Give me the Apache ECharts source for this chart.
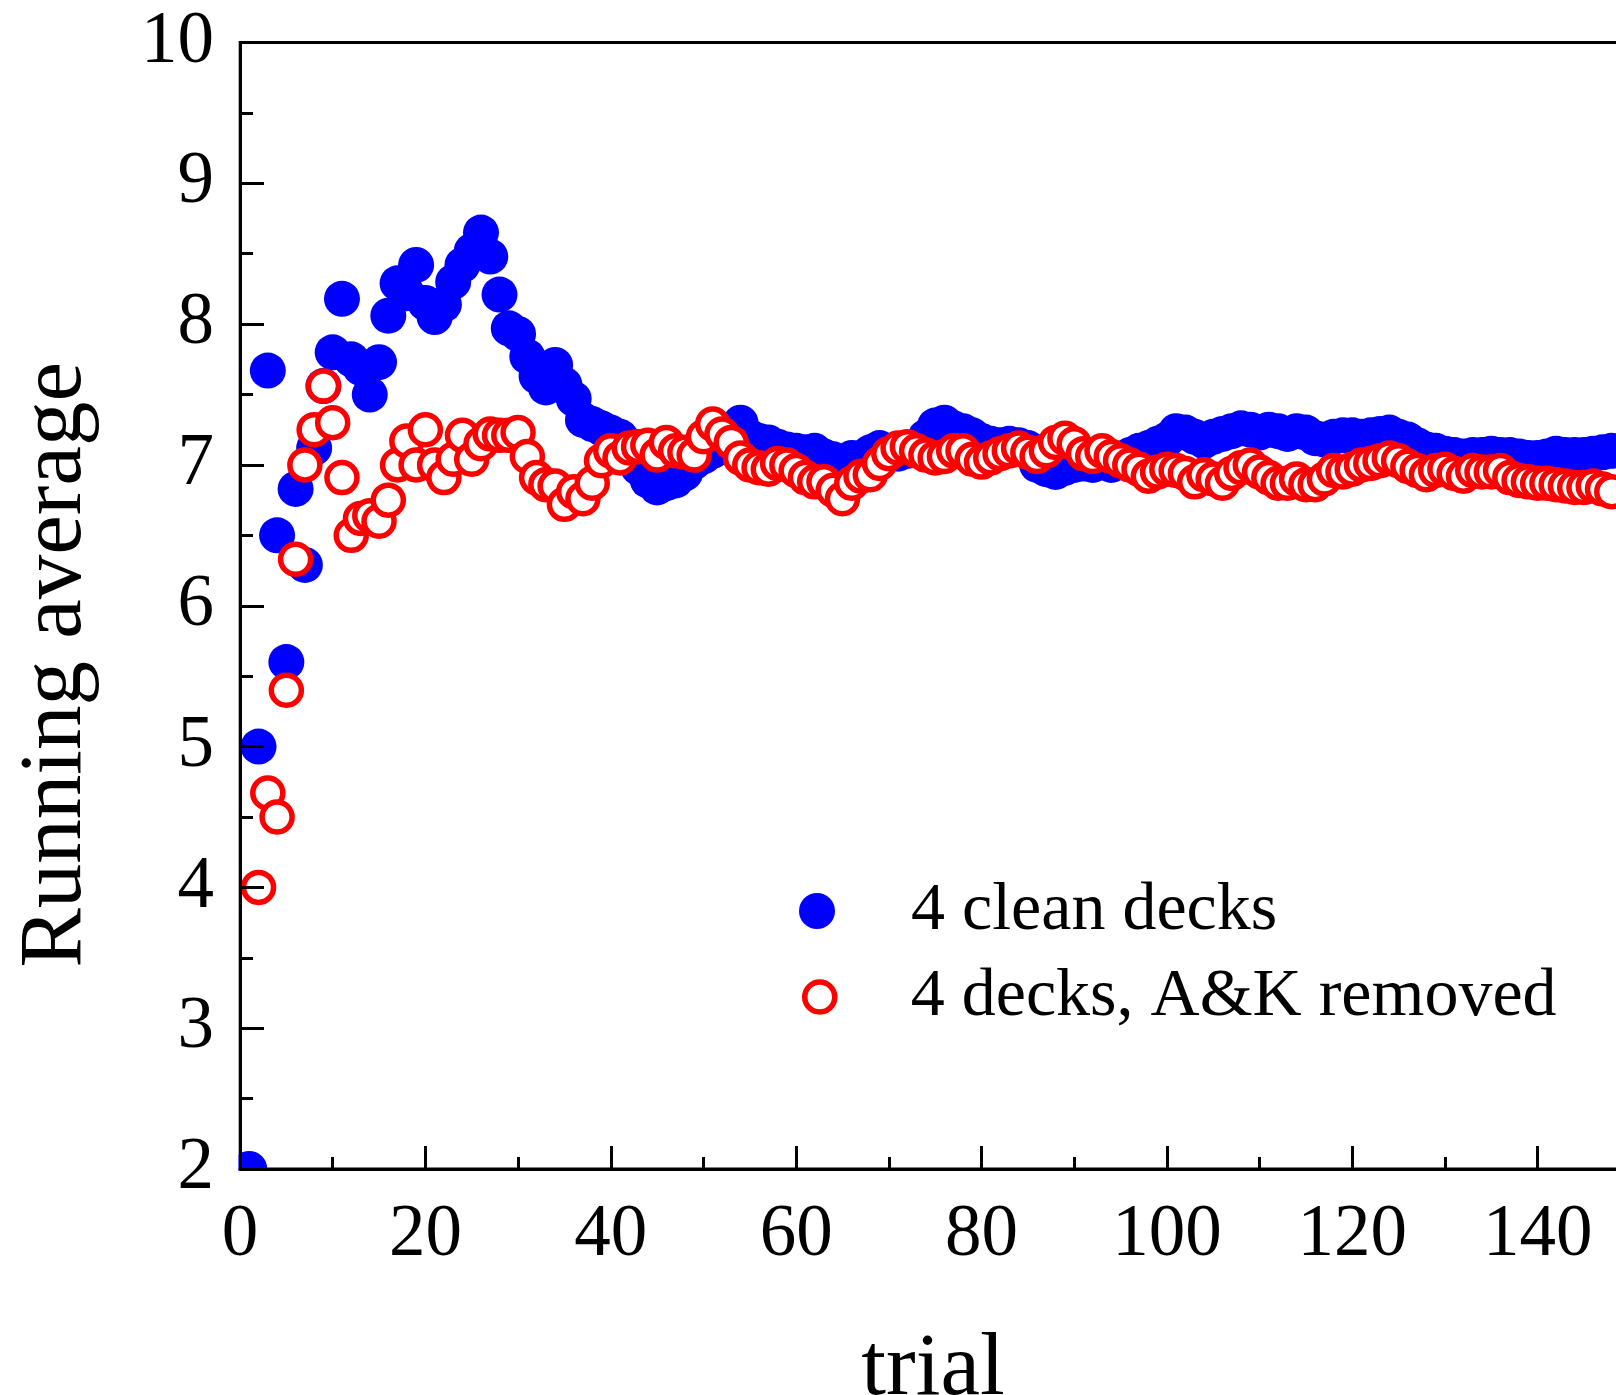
<!DOCTYPE html>
<html>
<head>
<meta charset="utf-8">
<script src="https://cdn.jsdelivr.net/npm/echarts@6/dist/echarts.min.js"></script>
<style>
html,body{margin:0;padding:0;background:#fff;}
#chart{width:1616px;height:1395px;}
</style>
</head>
<body>
<div id="chart"></div>
<script>
// Series names
var seriesNames = ['4 clean decks', '4 decks, A&K removed'];
// First trial index for each series
var cleanStart = 1;
var removedStart = 2;
// Running average, 4 clean decks (trial 1..148)
var cleanValues = [
  2.00, 5.00, 7.67, 6.50, 5.60, 6.83, 6.29, 7.12, 7.56, 7.80,
  8.18, 7.75, 7.69, 7.50, 7.73, 8.06, 8.29, 8.22, 8.42, 8.15,
  8.05, 8.14, 8.30, 8.42, 8.52, 8.65, 8.48, 8.21, 7.97, 7.93,
  7.77, 7.63, 7.55, 7.71, 7.57, 7.47, 7.32, 7.29, 7.26, 7.23,
  7.20, 7.14, 6.98, 6.89, 6.84, 6.87, 6.89, 6.94, 7.02, 7.06,
  7.10, 7.15, 7.22, 7.30, 7.20, 7.17, 7.16, 7.13, 7.11, 7.10,
  7.09, 7.10, 7.06, 7.04, 7.02, 7.05, 7.05, 7.09, 7.12, 7.10,
  7.08, 7.10, 7.13, 7.20, 7.28, 7.30, 7.26, 7.24, 7.21, 7.17,
  7.15, 7.14, 7.15, 7.14, 7.12, 7.00, 6.97, 6.95, 6.98, 7.00,
  7.01, 7.00, 7.02, 7.00, 7.04, 7.07, 7.10, 7.12, 7.15, 7.18,
  7.24, 7.23, 7.20, 7.17, 7.20, 7.22, 7.24, 7.26, 7.25, 7.23,
  7.25, 7.24, 7.22, 7.24, 7.23, 7.19, 7.18, 7.20, 7.21, 7.21,
  7.20, 7.21, 7.22, 7.23, 7.20, 7.18, 7.14, 7.11, 7.10, 7.08,
  7.07, 7.06, 7.07, 7.07, 7.08, 7.07, 7.07, 7.06, 7.05, 7.05,
  7.06, 7.08, 7.07, 7.07, 7.07, 7.08, 7.09, 7.10
];
// Running average, 4 decks with A&K removed (trial 2..148)
var removedValues = [
  4.00, 4.67, 4.50, 5.40, 6.33, 7.00, 7.25, 7.56, 7.30,
  6.91, 6.50, 6.62, 6.64, 6.60, 6.75, 7.00, 7.17, 7.00, 7.25,
  7.00, 6.91, 7.04, 7.21, 7.04, 7.15, 7.22, 7.21, 7.21, 7.23,
  7.06, 6.91, 6.86, 6.85, 6.72, 6.81, 6.76, 6.87, 7.03, 7.10,
  7.05, 7.12, 7.13, 7.14, 7.07, 7.16, 7.10, 7.09, 7.07, 7.20,
  7.29, 7.22, 7.16, 7.05, 7.00, 6.98, 6.97, 7.01, 7.00, 6.96,
  6.91, 6.88, 6.88, 6.82, 6.76, 6.87, 6.92, 6.93, 7.01, 7.08,
  7.12, 7.13, 7.10, 7.07, 7.05, 7.06, 7.10, 7.10, 7.04, 7.02,
  7.05, 7.08, 7.10, 7.12, 7.09, 7.06, 7.10, 7.16, 7.19, 7.15,
  7.08, 7.06, 7.10, 7.06, 7.03, 7.00, 6.97, 6.92, 6.95, 6.97,
  6.96, 6.94, 6.88, 6.93, 6.90, 6.87, 6.94, 6.98, 7.00, 6.95,
  6.91, 6.87, 6.87, 6.90, 6.86, 6.86, 6.90, 6.96, 6.95, 6.97,
  7.00, 7.01, 7.03, 7.05, 7.03, 6.99, 6.96, 6.93, 6.96, 6.97,
  6.94, 6.92, 6.96, 6.95, 6.95, 6.96, 6.91, 6.89, 6.88, 6.87,
  6.87, 6.86, 6.85, 6.84, 6.84, 6.85, 6.83, 6.81
];

function pairs(start, vals) {
  return vals.map(function (v, i) { return [start + i, v]; });
}

var FONT = 'Liberation Serif';
var W = 1616, H = 1395;
var GRID_LEFT = 240, GRID_TOP = 42.5, GRID_BOTTOM = 226, GRID_WIDTH = 1483;
var chart = echarts.init(document.getElementById('chart'), null, {renderer: 'canvas'});
chart.setOption({
  animation: false,
  backgroundColor: '#ffffff',
  grid: {
    left: GRID_LEFT, top: GRID_TOP, bottom: GRID_BOTTOM, width: GRID_WIDTH,
    outerBoundsMode: 'none', containLabel: false,
    show: true, borderColor: '#000', borderWidth: 3, backgroundColor: 'transparent'
  },
  // white masks outside the plot area so markers are cut at the plot edge
  // (axes are drawn above them)
  graphic: [
    {
      type: 'rect', z: 5, silent: true,
      shape: {x: 0, y: H - GRID_BOTTOM + 1.6, width: W, height: GRID_BOTTOM},
      style: {fill: '#ffffff'}
    },
    {
      type: 'rect', z: 5, silent: true,
      shape: {x: 0, y: 0, width: GRID_LEFT - 1.6, height: H},
      style: {fill: '#ffffff'}
    }
  ],
  xAxis: {
    type: 'value', min: 0, max: 160, interval: 20, z: 10,
    name: 'trial', nameLocation: 'middle', nameGap: 157,
    nameTextStyle: {fontFamily: FONT, fontSize: 89, color: '#000', padding: [0, 97, 0, 0]},
    axisLine: {onZero: false, lineStyle: {color: '#000', width: 3}},
    axisTick: {inside: true, length: 23, lineStyle: {color: '#000', width: 3}},
    minorTick: {show: true, splitNumber: 2, length: 12, lineStyle: {color: '#000', width: 3}},
    axisLabel: {fontFamily: FONT, fontSize: 73, color: '#000', margin: 30, showMaxLabel: false},
    splitLine: {show: false}
  },
  yAxis: {
    type: 'value', min: 2, max: 10, interval: 1, z: 10,
    name: 'Running average', nameLocation: 'middle', nameGap: 139,
    nameTextStyle: {fontFamily: FONT, fontSize: 89, color: '#000', padding: [0, 118, 0, 0]},
    axisLine: {lineStyle: {color: '#000', width: 3}},
    axisTick: {inside: true, length: 24, lineStyle: {color: '#000', width: 3}},
    minorTick: {show: true, splitNumber: 2, length: 13, lineStyle: {color: '#000', width: 3}},
    axisLabel: {fontFamily: FONT, fontSize: 73, color: '#000', margin: 26},
    splitLine: {show: false}
  },
  legend: [
    {
      data: [seriesNames[0]], orient: 'vertical', left: 799, top: 877, padding: 0,
      itemWidth: 36, itemHeight: 36, icon: 'circle',
      itemStyle: {borderWidth: 0},
      textStyle: {fontFamily: FONT, fontSize: 68, color: '#000', padding: [0, 0, 0, 71]}
    },
    {
      data: [seriesNames[1]], orient: 'vertical', left: 802, top: 963, padding: 0,
      itemWidth: 30, itemHeight: 30, icon: 'circle',
      itemStyle: {color: '#ffffff', borderColor: '#ff0000', borderWidth: 5.5},
      textStyle: {fontFamily: FONT, fontSize: 68, color: '#000', padding: [0, 0, 0, 71]}
    }
  ],
  series: [
    {
      name: seriesNames[0], type: 'scatter', symbol: 'circle', symbolSize: 36,
      itemStyle: {color: '#0000ff', opacity: 1},
      emphasis: {disabled: true},
      data: pairs(cleanStart, cleanValues)
    },
    {
      name: seriesNames[1], type: 'scatter', symbol: 'circle', symbolSize: 30,
      itemStyle: {color: '#ffffff', borderColor: '#ff0000', borderWidth: 5.5, opacity: 1},
      emphasis: {disabled: true},
      data: pairs(removedStart, removedValues)
    }
  ]
});
</script>
</body>
</html>
